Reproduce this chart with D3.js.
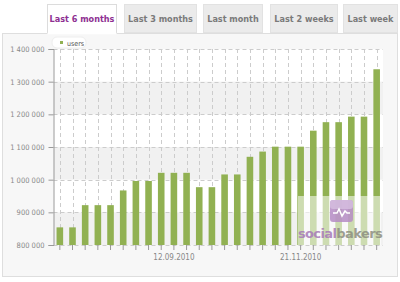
<!DOCTYPE html>
<html><head><meta charset="utf-8">
<script src="https://cdn.jsdelivr.net/npm/d3@7/dist/d3.min.js"></script>
<style>body{margin:0;background:#fff;}svg{display:block;}</style>
</head><body><svg id="c" width="400" height="282"></svg>
<script>
const weeks = ["11.07.2010","18.07.2010","25.07.2010","01.08.2010","08.08.2010","15.08.2010","22.08.2010","29.08.2010","05.09.2010","12.09.2010","19.09.2010","26.09.2010","03.10.2010","10.10.2010","17.10.2010","24.10.2010","31.10.2010","07.11.2010","14.11.2010","21.11.2010","28.11.2010","05.12.2010","12.12.2010","19.12.2010","26.12.2010","02.01.2011"];
const users = [854000,854000,922000,922000,922000,967000,996000,996000,1021000,1021000,1021000,977000,977000,1016000,1016000,1070000,1086000,1101000,1101000,1101000,1150000,1176000,1176000,1193000,1193000,1338000];
const yTicks = [800000,900000,1000000,1100000,1200000,1300000,1400000];
const xTickLabels = ["12.09.2010","21.11.2010"];
const tabs = ["Last 6 months","Last 3 months","Last month","Last 2 weeks","Last week"];
const seriesName = "users";

const svg = d3.select("#c");
const font = "Tahoma, 'DejaVu Sans Condensed', 'Liberation Sans', sans-serif";

// tabs
const tabX = [[47,117],[124,197],[203,263],[270,338],[343,398]];
tabs.forEach((t,i)=>{
  const [x0,x1]=tabX[i];
  const active = i===0;
  svg.append("rect").attr("x",x0+0.5).attr("y",4.5).attr("width",x1-x0-1).attr("height",active?29:28)
    .attr("fill",active?"#fff":"#ebebeb").attr("stroke",active?"#dcdcdc":"#e2e2e2");
  svg.append("text").attr("x",(x0+x1)/2).attr("y",22).attr("text-anchor","middle")
    .attr("font-family",font).attr("font-weight","bold").attr("font-size",9)
    .attr("fill",active?"#8e2f92":"#7a7a7a").text(t);
});

// container
svg.append("rect").attr("x",2.5).attr("y",33.5).attr("width",395).attr("height",243)
  .attr("fill","#f7f7f7").attr("stroke","#dedede");
svg.append("line").attr("x1",47.5).attr("x2",116.5).attr("y1",33.5).attr("y2",33.5).attr("stroke","#fff").attr("stroke-width",1.5);

const pL=53.5, pR=383, pT=49, pB=245;
const x = d3.scaleBand().domain(weeks).range([pL,pR]).paddingInner(0.48).paddingOuter(0.24);
const y = d3.scaleLinear().domain([800000,1400000]).range([pB,pT]);

// plot background
svg.append("rect").attr("x",pL).attr("y",pT).attr("width",pR-pL).attr("height",pB-pT).attr("fill","#fff");
// bands
for(let i=0;i<yTicks.length-1;i+=2){
  svg.append("rect").attr("x",pL).attr("width",pR-pL)
    .attr("y",y(yTicks[i+1])).attr("height",y(yTicks[i])-y(yTicks[i+1])).attr("fill","#f1f1f1");
}
// vertical grid
svg.append("g").selectAll("line").data(weeks).join("line")
  .attr("x1",d=>Math.round(x(d)+x.bandwidth()/2)+0.5).attr("x2",d=>Math.round(x(d)+x.bandwidth()/2)+0.5)
  .attr("y1",pT).attr("y2",pB).attr("stroke","#cccccc").attr("stroke-dasharray","4,3");
// horizontal grid
svg.append("g").selectAll("line").data(yTicks).join("line")
  .attr("x1",pL).attr("x2",pR).attr("y1",d=>Math.round(y(d))+0.5).attr("y2",d=>Math.round(y(d))+0.5)
  .attr("stroke","#cccccc").attr("stroke-dasharray","4,3");

// bars
svg.append("g").selectAll("rect").data(users).join("rect")
  .attr("x",(d,i)=>x(weeks[i])).attr("width",x.bandwidth())
  .attr("y",d=>y(d)).attr("height",d=>pB-y(d)).attr("fill","#91b152");

// y axis
const yAxis = d3.axisLeft(y).tickValues(yTicks).tickSize(5).tickPadding(4)
  .tickFormat(d=>d3.format(",")(d).replace(/,/g," "));
const gy = svg.append("g").attr("transform",`translate(${pL},0)`).call(yAxis);
gy.select(".domain").attr("stroke","#999");
gy.selectAll(".tick line").attr("stroke","#999");
gy.selectAll("text").attr("font-family",font).attr("font-size",7.5).attr("fill","#888");

// x ticks
const xAxis = d3.axisBottom(x).tickSize(5).tickFormat(d=>xTickLabels.includes(d)?d:"");
const gx = svg.append("g").attr("transform",`translate(0,${pB})`).call(xAxis);
gx.select(".domain").remove();
gx.selectAll(".tick line").attr("stroke","#999");
gx.selectAll("text").attr("font-family",font).attr("font-size",8).attr("fill","#888").attr("dy","0.9em");

// legend
svg.append("rect").attr("x",52).attr("y",37).attr("width",34).attr("height",11).attr("rx",5)
  .attr("fill","#fff").attr("stroke","#eee");
svg.append("rect").attr("x",60).attr("y",41).attr("width",3).attr("height",3).attr("fill","#91b152");
svg.append("text").attr("x",67).attr("y",45.5).attr("font-family",font).attr("font-size",7).attr("fill","#555").text(seriesName);

// watermark
svg.append("rect").attr("x",298).attr("y",196).attr("width",83).attr("height",49).attr("fill","#fff").attr("opacity",0.55);
svg.append("rect").attr("x",330).attr("y",200).attr("width",23).attr("height",22).attr("rx",3).attr("fill","#b58cc4").attr("opacity",0.85);
svg.append("rect").attr("x",330).attr("y",200).attr("width",23).attr("height",9).attr("rx",3).attr("fill","#d6bfe0").attr("opacity",0.8);
svg.append("path").attr("d","M333,213 L337,213 L339,209 L342,216 L345,211 L347,213 L350,213")
  .attr("fill","none").attr("stroke","#fff").attr("stroke-width",1.5);
const wt = svg.append("text").attr("x",340).attr("y",238).attr("text-anchor","middle").attr("opacity",0.85)
  .attr("font-family","'DejaVu Sans', sans-serif").attr("font-weight","bold").attr("font-size",13).attr("letter-spacing",-0.6);
wt.append("tspan").attr("fill","#a77bb8").text("social");
wt.append("tspan").attr("fill","#8d8f80").text("bakers");
</script></body></html>
